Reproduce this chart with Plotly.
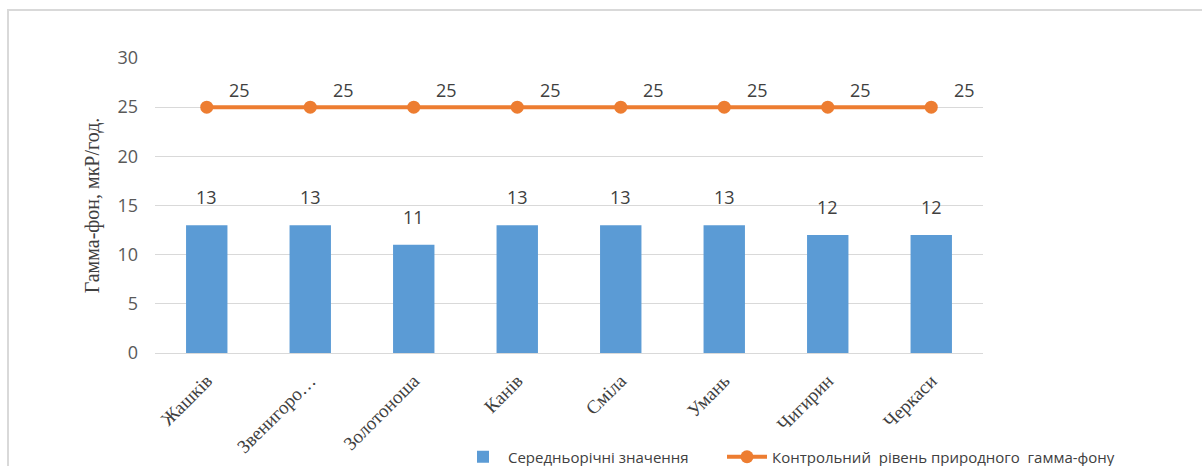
import plotly.graph_objects as go

categories = ["Жашків", "Звенигоро…", "Золотоноша", "Канів", "Сміла", "Умань", "Чигирин", "Черкаси"]
avg_values = [13, 13, 11, 13, 13, 13, 12, 12]
control_values = [25, 25, 25, 25, 25, 25, 25, 25]
y_ticks = [0, 5, 10, 15, 20, 25, 30]

BLUE = "#5B9BD5"
ORANGE = "#ED7D31"
W, H = 1202, 466
L, R, T, B = 155, W - 983, 58, H - 353
pw, ph = W - L - R, H - T - B

fig = go.Figure()
fig.add_trace(go.Bar(
    x=categories, y=avg_values, name="Середньорічні значення",
    marker=dict(color=BLUE, line=dict(width=0)), width=0.4, legend="legend",
))
fig.add_trace(go.Scatter(
    x=categories, y=control_values, name="Контрольний  рівень природного  гамма-фону",
    mode="lines+markers", legend="legend2",
    line=dict(color=ORANGE, width=4), marker=dict(color=ORANGE, size=13),
))

for c, v in zip(categories, avg_values):
    fig.add_annotation(x=c, y=v, text=str(v), showarrow=False, yshift=28,
                       font=dict(size=18, color="#404040", family="Open Sans"))
for c, v in zip(categories, control_values):
    fig.add_annotation(x=c, y=v, text=str(v), showarrow=False, xshift=33, yshift=17,
                       font=dict(size=18, color="#404040", family="Open Sans"))

# outer chart border
fig.add_shape(type="rect", xref="paper", yref="paper",
              x0=(8 - L) / pw, x1=(W + 10 - L) / pw,
              y0=-(H + 10 - T - ph) / ph, y1=1 + (T - 10) / ph,
              line=dict(color="#D9D9D9", width=2), fillcolor="rgba(0,0,0,0)", layer="below")

leg_common = dict(orientation="h", xanchor="left", yanchor="middle",
                  y=-(457 - T - ph) / ph,
                  font=dict(size=15, color="#404040", family="Open Sans"),
                  bgcolor="rgba(0,0,0,0)", itemwidth=40)

fig.update_layout(
    width=W, height=H, margin=dict(l=L, r=R, t=T, b=B, autoexpand=False),
    paper_bgcolor="white", plot_bgcolor="white",
    showlegend=True,
    legend=dict(x=(458 - L) / pw, **leg_common),
    legend2=dict(x=(722 - L) / pw, **leg_common),
    xaxis=dict(tickangle=-45, tickfont=dict(family="Liberation Serif", size=19, color="#404040"),
               showgrid=False, showline=False, ticks="", automargin=False,
               ticklabelstandoff=12),
    yaxis=dict(range=[0, 30], tickvals=y_ticks, showgrid=True, gridcolor="#D9D9D9", gridwidth=1,
               zeroline=True, zerolinecolor="#D9D9D9", zerolinewidth=1,
               tickfont=dict(family="Open Sans", size=18, color="#595959"),
               ticklabelstandoff=16, automargin=False,
               title=dict(text="Гамма-фон, мкР/год.", standoff=12,
                          font=dict(family="Liberation Serif", size=20, color="#404040"))),
    bargap=0.6,
)

fig.write_html("out.html")
